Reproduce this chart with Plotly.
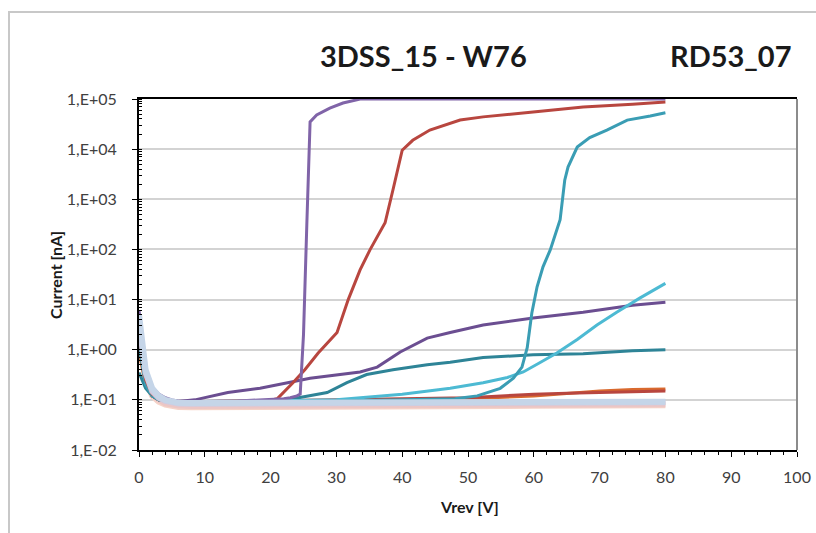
import plotly.graph_objects as go

# ---------------- data ----------------
tick_vals = [1e-2, 1e-1, 1e0, 1e1, 1e2, 1e3, 1e4, 1e5]
tick_text = ["1,E-02", "1,E-01", "1,E+00", "1,E+01", "1,E+02", "1,E+03", "1,E+04", "1,E+05"]

# purple, breakdown ~25 V
v_purple_bd = [0, 0.5, 1, 2, 3, 4, 5, 6, 8, 10, 15, 20, 22, 23, 24, 24.5, 25, 25.5, 26, 27, 29, 31, 33.6, 40, 50, 60, 70, 80]
i_purple_bd = [6, 1.5, 0.4, 0.18, 0.13, 0.11, 0.1, 0.095, 0.093, 0.093, 0.095, 0.1, 0.105, 0.11, 0.12, 0.13, 2, 300, 3.5e4, 4.8e4, 6.6e4, 8.3e4, 1e5, 1e5, 1e5, 1e5, 1e5, 1e5]

# red, breakdown ~38 V
v_red_bd = [0, 0.5, 1, 2, 3, 4, 5, 6, 8, 10, 15, 20, 21, 23.4, 25.2, 27.2, 30.1, 31.8, 33.6, 35.1, 37.4, 38.6, 40, 41.6, 44.2, 48.8, 52.3, 59.9, 67.5, 75, 80]
i_red_bd = [2, 0.7, 0.25, 0.13, 0.11, 0.1, 0.095, 0.093, 0.092, 0.092, 0.094, 0.098, 0.105, 0.22, 0.4, 0.85, 2.2, 10, 39, 98, 340, 1550, 9.5e3, 1.5e4, 2.4e4, 3.8e4, 4.4e4, 5.5e4, 6.9e4, 7.9e4, 8.7e4]

# cyan, breakdown ~60 V
v_cyan_bd = [0, 0.5, 1, 2, 3, 4, 5, 6, 8, 10, 20, 30, 40, 48, 51.4, 54.9, 56.9, 58.2, 59, 59.7, 60.5, 61.4, 62.5, 64, 64.7, 65.2, 66.6, 68.5, 71.1, 74.2, 77.7, 80]
i_cyan_bd = [1.2, 0.5, 0.2, 0.12, 0.1, 0.095, 0.092, 0.09, 0.09, 0.09, 0.092, 0.095, 0.1, 0.105, 0.12, 0.17, 0.27, 0.45, 1.1, 5.4, 18, 45, 98, 390, 2.4e3, 4.4e3, 1.1e4, 1.7e4, 2.4e4, 3.8e4, 4.6e4, 5.3e4]

# dark purple, slow rise
v_purple_soft = [0, 0.5, 1, 2, 3, 4, 5, 6, 8.5, 13.5, 18.4, 21, 26, 33.6, 36.2, 39.7, 43.8, 47.3, 52.3, 59.9, 67.5, 75, 80]
i_purple_soft = [4, 1.2, 0.35, 0.16, 0.12, 0.1, 0.095, 0.093, 0.1, 0.14, 0.17, 0.2, 0.27, 0.36, 0.45, 0.9, 1.7, 2.2, 3.1, 4.3, 5.6, 7.7, 8.8]

# dark teal, ~1 nA at 80 V
v_teal_flat = [0, 0.5, 1, 2, 3, 4, 5, 6, 8, 10, 15, 20, 23.4, 28.6, 31.6, 34.6, 38.6, 43.8, 47.3, 52.3, 59.9, 67.5, 75, 80]
i_teal_flat = [0.35, 0.25, 0.17, 0.12, 0.1, 0.095, 0.092, 0.09, 0.09, 0.09, 0.092, 0.095, 0.105, 0.14, 0.22, 0.32, 0.4, 0.5, 0.56, 0.7, 0.79, 0.83, 0.95, 1.0]

# light cyan, soft rise to ~20 nA
v_cyan_soft = [0, 0.5, 1, 2, 3, 4, 5, 6, 8, 10, 20, 30, 40, 47.3, 52.3, 56, 58.4, 60.9, 63.5, 66.6, 69.6, 72.6, 76.1, 80]
i_cyan_soft = [3, 1, 0.3, 0.14, 0.11, 0.1, 0.094, 0.092, 0.092, 0.092, 0.095, 0.1, 0.13, 0.17, 0.22, 0.28, 0.36, 0.55, 0.86, 1.6, 3.1, 5.6, 10.7, 21]

# red, nearly flat
v_red_flat = [0, 0.5, 1, 2, 3, 4, 5, 6, 8, 10, 20, 30, 40, 50, 55, 60, 65, 70, 75, 80]
i_red_flat = [1.5, 0.5, 0.2, 0.12, 0.1, 0.095, 0.093, 0.092, 0.092, 0.093, 0.097, 0.1, 0.105, 0.11, 0.12, 0.13, 0.135, 0.14, 0.145, 0.15]

# orange, nearly flat
v_orange_flat = [0, 0.5, 1, 2, 3, 4, 5, 6, 8, 10, 20, 30, 40, 50, 60, 70, 75, 80]
i_orange_flat = [0.9, 0.45, 0.2, 0.12, 0.1, 0.094, 0.092, 0.09, 0.09, 0.09, 0.093, 0.097, 0.1, 0.105, 0.12, 0.15, 0.16, 0.165]

# pale flat curves
v_pale = [0, 0.5, 1, 2, 3, 4, 5, 6, 8, 10, 20, 30, 40, 50, 60, 70, 80]
i_pale_blue = [5, 1.2, 0.4, 0.17, 0.12, 0.1, 0.092, 0.088, 0.087, 0.087, 0.088, 0.089, 0.09, 0.09, 0.091, 0.091, 0.092]
i_pale_lilac = [3.5, 1.0, 0.35, 0.15, 0.11, 0.095, 0.088, 0.085, 0.084, 0.084, 0.085, 0.086, 0.087, 0.088, 0.088, 0.089, 0.09]
i_pale_pink = [2.5, 0.8, 0.3, 0.13, 0.1, 0.085, 0.08, 0.077, 0.075, 0.075, 0.076, 0.077, 0.078, 0.079, 0.08, 0.081, 0.082]
i_pale_peach = [1.8, 0.6, 0.25, 0.12, 0.092, 0.08, 0.075, 0.072, 0.071, 0.071, 0.072, 0.073, 0.074, 0.075, 0.076, 0.077, 0.078]

series = [
    (v_pale, i_pale_peach, "#F5D3C8", 6),
    (v_pale, i_pale_pink, "#EBC6C5", 6),
    (v_orange_flat, i_orange_flat, "#D9692E", 3),
    (v_red_flat, i_red_flat, "#B8463F", 3),
    (v_teal_flat, i_teal_flat, "#2E8497", 3),
    (v_purple_soft, i_purple_soft, "#6B4E91", 3),
    (v_cyan_soft, i_cyan_soft, "#4DBAD3", 3),
    (v_cyan_bd, i_cyan_bd, "#3A9DB4", 3),
    (v_red_bd, i_red_bd, "#B8463F", 3),
    (v_purple_bd, i_purple_bd, "#8064A8", 3),
    (v_pale, i_pale_lilac, "#CFCBE0", 6),
    (v_pale, i_pale_blue, "#C5D5E8", 6),
]

fig = go.Figure()
for vx, iy, col, w in series:
    fig.add_trace(go.Scatter(x=vx, y=iy, mode="lines",
                             line=dict(color=col, width=w), showlegend=False,
                             hoverinfo="skip"))

W, H = 816, 533
L, R, T, B = 139, 19, 99, 83
pw, ph = W - L - R, H - T - B

def px_x(p):
    return (p - L) / pw

def px_y(p):
    return (H - B - p) / ph

font_fam = "Lato, 'Open Sans', sans-serif"

fig.update_layout(
    width=W, height=H,
    margin=dict(l=L, r=R, t=T, b=B, pad=0, autoexpand=False),
    paper_bgcolor="white", plot_bgcolor="white",
    font=dict(family=font_fam, color="#404040"),
    xaxis=dict(range=[0, 100], dtick=10, tick0=0, automargin=False,
               showline=True, linecolor="black", linewidth=2, mirror=True,
               showgrid=False, zeroline=False,
               ticks="outside", ticklen=5, tickwidth=1, tickcolor="black",
               ticklabelstandoff=7,
               minor=dict(dtick=2, ticks="outside", ticklen=3, tickcolor="black", showgrid=False),
               tickfont=dict(size=16, color="#404040", family=font_fam)),
    yaxis=dict(type="log", range=[-2, 5], automargin=False,
               tickvals=tick_vals, ticktext=tick_text,
               showline=True, linecolor="black", linewidth=2,
               showgrid=True, gridcolor="#D3D3D3", gridwidth=2,
               zeroline=False,
               ticks="outside", ticklen=5, tickwidth=1, tickcolor="black",
               ticklabelstandoff=12,
               minor=dict(dtick="D1", ticks="inside", ticklen=3, tickcolor="black", showgrid=False),
               tickfont=dict(size=16, color="#404040", family=font_fam)),
    shapes=[
        dict(type="line", xref="paper", yref="paper", x0=1, x1=1, y0=0, y1=1,
             line=dict(color="#8C8C8C", width=2)),
        dict(type="rect", xref="paper", yref="paper",
             x0=px_x(9), x1=px_x(840), y0=px_y(560), y1=px_y(12),
             line=dict(color="#C8C8C8", width=2), fillcolor="rgba(0,0,0,0)", layer="below"),
    ],
    annotations=[
        dict(text="<b>3DSS_15 - W76</b>", xref="paper", yref="paper",
             x=px_x(423), y=px_y(55), showarrow=False, xanchor="center", yanchor="middle",
             font=dict(size=29, color="#1a1a1a", family=font_fam)),
        dict(text="<b>RD53_07</b>", xref="paper", yref="paper",
             x=px_x(731), y=px_y(55), showarrow=False, xanchor="center", yanchor="middle",
             font=dict(size=29, color="#1a1a1a", family=font_fam)),
        dict(text="<b>Current [nA]</b>", xref="paper", yref="paper",
             x=px_x(55), y=px_y(275), showarrow=False, xanchor="center", yanchor="middle",
             textangle=-90, font=dict(size=16, color="#1a1a1a", family=font_fam)),
        dict(text="<b>Vrev [V]</b>", xref="paper", yref="paper",
             x=px_x(469), y=px_y(506), showarrow=False, xanchor="center", yanchor="middle",
             font=dict(size=16, color="#1a1a1a", family=font_fam)),
    ],
)

fig.write_html("out.html")
